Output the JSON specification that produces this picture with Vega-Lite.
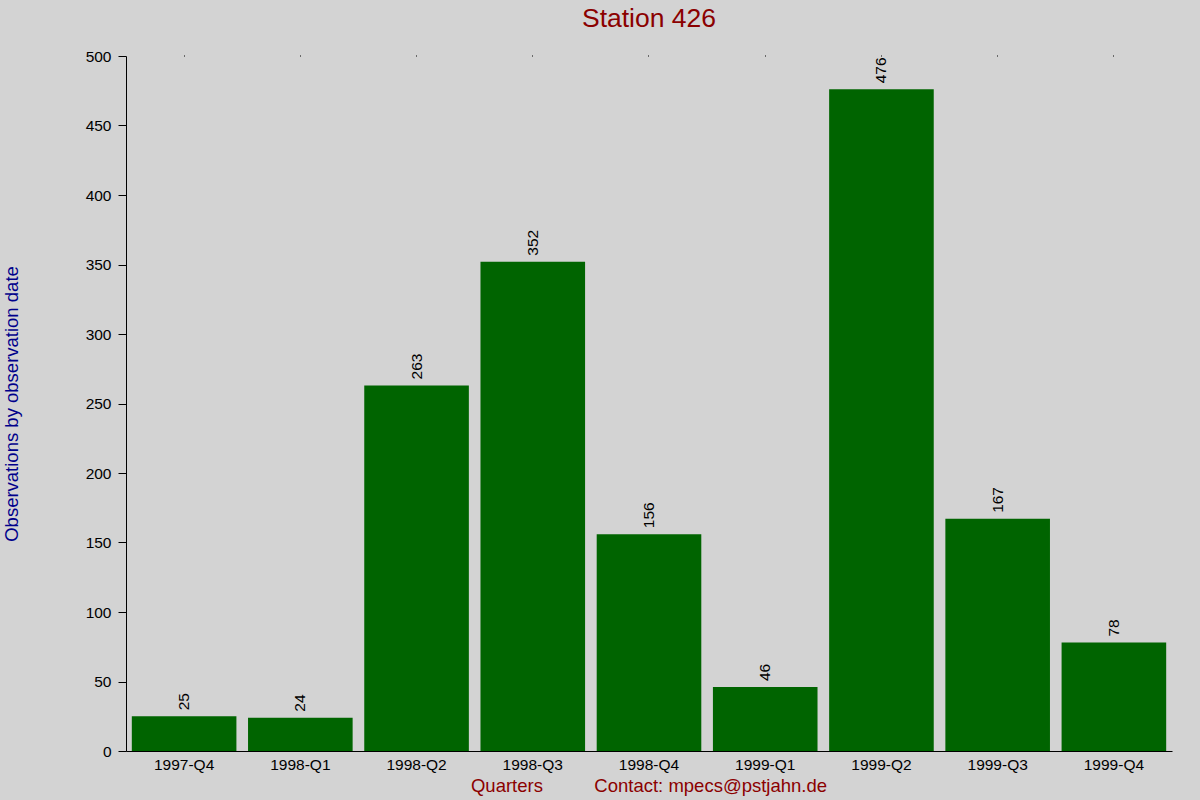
{
  "$schema": "https://vega.github.io/schema/vega-lite/v6.json",
  "autosize": {"type": "none"},
  "width": 1046,
  "height": 695,
  "padding": {"left": 126, "top": 56, "right": 28, "bottom": 49},
  "background": "#d3d3d3",
  "config": {
    "view": {"stroke": null},
    "font": "Liberation Sans"
  },
  "title": {
    "text": "Station 426",
    "color": "#8b0000",
    "fontSize": 26.5,
    "fontWeight": "normal",
    "font": "Liberation Sans",
    "anchor": "middle",
    "frame": "group",
    "offset": 17
  },
  "data": {
    "values": [
      {"quarter": "1997-Q4", "count": 25},
      {"quarter": "1998-Q1", "count": 24},
      {"quarter": "1998-Q2", "count": 263},
      {"quarter": "1998-Q3", "count": 352},
      {"quarter": "1998-Q4", "count": 156},
      {"quarter": "1999-Q1", "count": 46},
      {"quarter": "1999-Q2", "count": 476},
      {"quarter": "1999-Q3", "count": 167},
      {"quarter": "1999-Q4", "count": 78}
    ]
  },
  "encoding": {
    "x": {
      "field": "quarter",
      "type": "nominal",
      "sort": null,
      "scale": {"paddingInner": 0.1, "paddingOuter": 0.05}
    },
    "y": {
      "field": "count",
      "type": "quantitative",
      "scale": {"domain": [0, 500], "nice": false},
      "axis": {
        "title": "Observations by observation date",
        "titleColor": "#00008b",
        "titleFontSize": 18.5,
        "titleFontWeight": "normal",
        "titleFont": "Liberation Sans",
        "titleX": -115,
        "titleY": 347.5,
        "titleAngle": 270,
        "titleAlign": "center",
        "titleBaseline": "middle",
        "values": [0, 50, 100, 150, 200, 250, 300, 350, 400, 450, 500],
        "grid": false,
        "domainColor": "#000000",
        "tickColor": "#000000",
        "tickSize": 8,
        "labelFontSize": 15.5,
        "labelColor": "#000000",
        "labelFont": "Liberation Sans",
        "labelPadding": 7
      }
    }
  },
  "layer": [
    {
      "mark": {"type": "bar", "color": "#006400"},
      "encoding": {
        "x": {
          "field": "quarter",
          "type": "nominal",
          "sort": null,
          "axis": {
            "orient": "bottom",
            "title": "Quarters\u00a0\u00a0\u00a0\u00a0\u00a0\u00a0\u00a0\u00a0\u00a0\u00a0Contact: mpecs@pstjahn.de",
            "titleColor": "#8b0000",
            "titleFontSize": 18.5,
            "titleFontWeight": "normal",
            "titleFont": "Liberation Sans",
            "titleX": 522.5,
            "titleY": 34,
            "titleAlign": "center",
            "titleBaseline": "middle",
            "labelAngle": 0,
            "ticks": false,
            "labelPadding": 6,
            "labelFontSize": 15.5,
            "labelColor": "#000000",
            "labelFont": "Liberation Sans",
            "domainColor": "#000000",
            "grid": false
          }
        }
      }
    },
    {
      "mark": {
        "type": "text",
        "angle": 270,
        "align": "left",
        "baseline": "middle",
        "dx": 6,
        "fontSize": 15.5,
        "color": "#000000",
        "font": "Liberation Sans"
      },
      "encoding": {
        "x": {
          "field": "quarter",
          "type": "nominal",
          "sort": null,
          "axis": {
            "orient": "top",
            "title": null,
            "labels": false,
            "domain": false,
            "ticks": true,
            "tickSize": 1,
            "tickColor": "#000000",
            "grid": false
          }
        },
        "text": {"field": "count", "type": "quantitative"}
      }
    }
  ],
  "resolve": {"axis": {"x": "independent"}}
}
